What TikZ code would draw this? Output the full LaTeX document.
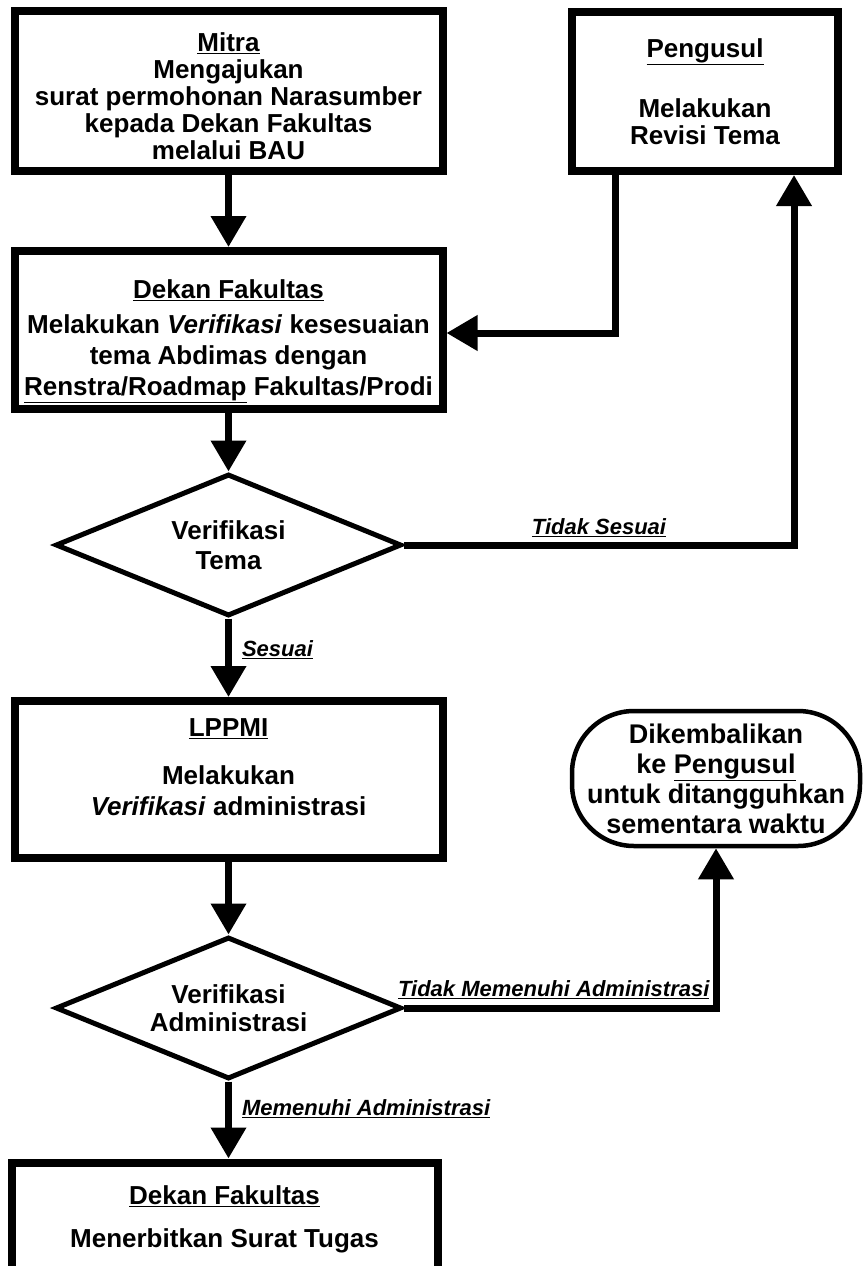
\documentclass[tikz,border=0pt]{standalone}
\usepackage{fontspec}
\setmainfont{Liberation Sans}
\usetikzlibrary{shapes.geometric,arrows.meta}

\begin{document}
\begin{tikzpicture}[x=1pt,y=-1pt,
    box/.style={draw,rectangle,line width=8pt,minimum width=428pt,inner sep=0pt,align=center,
      font=\bfseries\fontsize{26}{27}\selectfont},
    decision/.style={draw,diamond,line width=5pt,minimum width=346pt,minimum height=142pt,
      shape aspect=2.4,inner sep=0pt,align=center,font=\bfseries\fontsize{26}{28}\selectfont},
    conn/.style={line width=7pt,-{Triangle[width=34pt,length=31pt]}},
    lbl/.style={font=\bfseries\itshape\fontsize{22}{24}\selectfont,inner sep=2pt}]
        \useasboundingbox (0,0) rectangle (863,1266);

        \node[box,minimum height=160pt] (mitra) at (228.5,91)
          {\rule{0pt}{30pt}\underline{Mitra}\\Mengajukan\\surat permohonan Narasumber\\kepada Dekan Fakultas\\melalui BAU};
        \node[box,minimum width=266pt,minimum height=159pt] (pengusul) at (705,91.5)
          {\underline{Pengusul}\\[33pt]Melakukan\\Revisi Tema};
        \node[box,minimum height=158pt,font=\bfseries\fontsize{26}{31}\selectfont] (dekan) at (228.5,330)
          {\rule{0pt}{42pt}\underline{Dekan Fakultas}\\[4pt]Melakukan \textit{Verifikasi} kesesuaian\\tema Abdimas dengan\\\underline{Renstra/Roadmap} Fakultas/Prodi};
        \node[decision,font=\bfseries\fontsize{26}{30}\selectfont] (temaok) at (228.5,545) {Verifikasi\\Tema};
        \node[box,minimum height=157pt,font=\bfseries\fontsize{26}{31}\selectfont] (lppmi) at (228.5,779.5)
          {\underline{LPPMI}\\[17pt]Melakukan\\\textit{Verifikasi} administrasi\rule[-24pt]{0pt}{1pt}};
        \node[decision] (adminok) at (228.5,1008) {Verifikasi\\Administrasi};
        \node[draw,line width=4.5pt,rounded corners=62pt,minimum width=288pt,minimum height=135pt,
          inner sep=0pt,align=center,font=\bfseries\fontsize{27}{30}\selectfont] (kembali) at (716,778.5)
          {Dikembalikan\\ke \underline{Pengusul}\\untuk ditangguhkan\\sementara waktu};
        \node[box,minimum width=426pt,minimum height=113pt,font=\bfseries\fontsize{26}{30}\selectfont] (tugas) at (224.5,1219)
          {\underline{Dekan Fakultas}\\[13pt]Menerbitkan Surat Tugas};

        % Edges
        \draw[conn] (mitra.south) -- (dekan.north);
        \draw[conn] ([xshift=-90pt]pengusul.south) |- ([yshift=-3pt]dekan.east);
        \draw[conn] (dekan.south) -- (temaok.north);
        \draw[conn] (temaok.east) -| node[lbl,above=3pt,pos=0.25] {\underline{Tidak Sesuai}} ([xshift=89pt]pengusul.south);
        \draw[conn] (temaok.south) -- node[lbl,right=8pt,pos=0.4] {\underline{Sesuai}} (lppmi.north);
        \draw[conn] (lppmi.south) -- (adminok.north);
        \draw[conn] (adminok.east) -| node[lbl,above=4pt,pos=0.24] {\underline{Tidak Memenuhi Administrasi}} (kembali.south);
        \draw[conn] (adminok.south) -- node[lbl,right=8pt,pos=0.35] {\underline{Memenuhi Administrasi}} (adminok.south |- tugas.north);
    \end{tikzpicture}
\end{document}
